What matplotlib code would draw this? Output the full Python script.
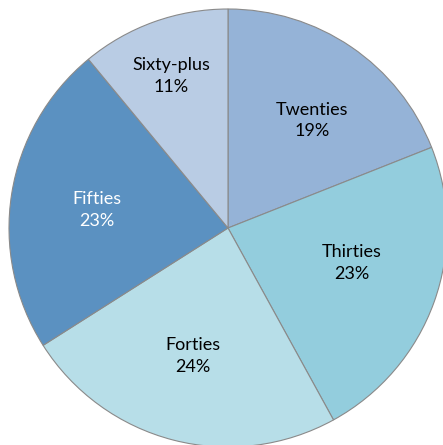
import numpy as np
import matplotlib.pyplot as plt

labels = ["Twenties", "Thirties", "Forties", "Fifties", "Sixty-plus"]
shares = [19, 23, 24, 23, 11]
colors = ["#95b3d7", "#93cddd", "#b7dee8", "#5b91c1", "#b9cce4"]
text_colors = ["black", "black", "black", "white", "black"]
# label placement (radius, angle shift in degrees from wedge middle)
label_r = [0.623, 0.588, 0.606, 0.604, 0.741]
label_shift = [-3.9, 4.0, -0.9, 1.2, 0.7]

plt.rcParams['font.family'] = ['Lato', 'DejaVu Sans']
fig = plt.figure(figsize=(4.43, 4.45), dpi=100)
ax = fig.add_axes([0, 0, 1, 1])
wedges, _ = ax.pie(shares, colors=colors, startangle=90, counterclock=False,
                   radius=1, wedgeprops=dict(edgecolor="#8a8a8a", linewidth=0.8))
for w, lab, s, tc, r, d in zip(wedges, labels, shares, text_colors, label_r, label_shift):
    mid = np.deg2rad((w.theta1 + w.theta2) / 2 + d)
    ax.text(r * np.cos(mid), r * np.sin(mid), f"{lab}\n{s}%", ha="center", va="center",
            fontsize=13, color=tc, linespacing=1.4)
ax.set_xlim(-228 / 219, 215 / 219)
ax.set_ylim(-217 / 219, 228 / 219)
ax.set_aspect('auto')
ax.axis('off')
fig.savefig("out.png", dpi=100)
